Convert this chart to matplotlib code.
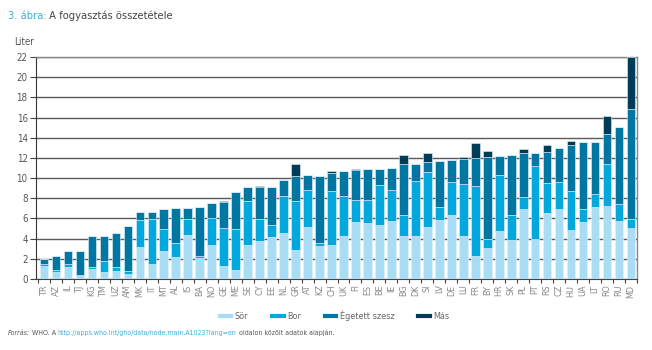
import numpy as np
import matplotlib.pyplot as plt
from matplotlib.lines import Line2D
from matplotlib import font_manager

names = set(f.name for f in font_manager.fontManager.ttflist)
fam = [n for n in ['Liberation Sans Narrow', 'DejaVu Sans Condensed'] if n in names]
plt.rcParams['font.family'] = fam + ['DejaVu Sans']
plt.rcParams['font.stretch'] = 'condensed'

countries = ['TR', 'AZ', 'IL', 'TJ', 'KG', 'TM', 'UZ', 'AM', 'MK', 'IT',
             'MT', 'AL', 'IS', 'BA', 'NO', 'GE', 'ME', 'SE', 'CY', 'EE',
             'NL', 'GR', 'AT', 'KZ', 'CH', 'UK', 'FI', 'ES', 'BE', 'IE',
             'BG', 'DK', 'SI', 'LV', 'DE', 'LU', 'FR', 'BY', 'HR', 'SK',
             'PL', 'PT', 'RS', 'CZ', 'HU', 'UA', 'LT', 'RO', 'RU', 'MD']

beer = [1.3, 0.65, 1.2, 0.3, 1.0, 0.65, 0.8, 0.5, 3.15, 1.5,
        2.75, 2.2, 4.4, 2.05, 3.35, 1.3, 0.9, 3.35, 3.75, 4.2,
        4.6, 2.85, 5.2, 3.25, 3.4, 4.3, 5.65, 5.55, 5.4, 5.7,
        4.3, 4.3, 5.15, 5.8, 6.3, 4.3, 2.3, 3.05, 4.8, 3.9,
        6.9, 3.95, 6.5, 6.95, 4.85, 5.65, 7.15, 7.25, 5.7, 5.1]

wine = [0.2, 0.25, 0.25, 0.05, 0.2, 1.15, 0.35, 0.3, 2.7, 4.4,
        2.25, 1.4, 1.5, 0.25, 2.7, 3.8, 4.1, 4.35, 2.2, 1.15,
        3.6, 4.9, 3.65, 0.3, 5.3, 3.9, 2.15, 2.25, 3.95, 3.1,
        2.05, 5.45, 5.45, 1.35, 3.3, 5.1, 6.9, 0.9, 5.5, 2.45,
        1.2, 7.25, 3.0, 2.65, 3.9, 1.25, 1.25, 4.15, 1.7, 0.85]

spirits = [0.45, 1.35, 1.3, 2.4, 3.05, 2.45, 3.45, 4.45, 0.8, 0.75,
           1.9, 3.4, 1.1, 4.8, 1.45, 2.55, 3.65, 1.4, 3.2, 3.8,
           1.65, 2.5, 1.45, 6.7, 1.85, 2.55, 3.0, 3.15, 1.6, 2.25,
           5.05, 1.6, 0.95, 4.5, 2.2, 2.5, 2.8, 8.15, 1.85, 5.95,
           4.4, 1.3, 3.1, 3.4, 4.55, 6.65, 5.15, 3.0, 7.7, 10.9]

other = [0, 0, 0, 0, 0, 0, 0, 0, 0, 0,
         0, 0, 0, 0, 0, 0.1, 0, 0, 0.05, 0,
         0, 1.1, 0, 0, 0.15, 0, 0.15, 0, 0, 0,
         0.85, 0, 0.9, 0, 0, 0.2, 1.5, 0.6, 0, 0,
         0.35, 0, 0.7, 0, 0.35, 0, 0, 1.75, 0, 5.15]

series = [('Sör', beer, '#a9ddf6'),
          ('Bor', wine, '#00a8dd'),
          ('Égetett szesz', spirits, '#0076a2'),
          ('Más', other, '#003b57')]

fig = plt.figure(figsize=(6.52, 3.5), dpi=100)
ax = fig.add_axes([0.0552, 0.2029, 0.9218, 0.6341])

x = np.arange(len(countries))
bottom = np.zeros(len(countries))
for name, vals, col in series:
    vals = np.array(vals)
    ax.bar(x, vals, width=0.72, bottom=bottom, color=col,
           edgecolor='#e4f3fa', linewidth=0.4, zorder=3)
    bottom += vals

ax.set_ylim(0, 22)
ax.set_xlim(-0.67, 49.42)
ax.set_yticks(range(0, 23, 2))
ax.yaxis.grid(True, color='#5a5a5a', linewidth=1.0, zorder=0)
ax.tick_params(axis='y', direction='out', length=4, width=0.8,
               colors='#444444', labelsize=7, pad=2, labelcolor='#555555')

ax.set_xticks(x)
ax.set_xticklabels(countries, rotation=90, fontsize=6.5, color='#888888')
ax.tick_params(axis='x', length=0, pad=4)
ax.set_xticks(np.arange(-0.5, 49.6, 1), minor=True)
ax.tick_params(axis='x', which='minor', direction='out', length=3,
               width=0.8, color='#444444')

for side in ['top', 'right']:
    ax.spines[side].set_color('#888888')
    ax.spines[side].set_linewidth(1.0)
ax.spines['left'].set_color('#333333')
ax.spines['bottom'].set_color('#444444')

fig.text(0.021, 0.872, 'Liter', fontsize=7, color='#555555')

t = fig.text(0.012, 0.945, '3. ábra:', fontsize=8, color='#3aaed8')
ax.annotate(' A fogyasztás összetétele', xy=(1, 0), xycoords=t,
            fontsize=8, color='#444444', va='bottom', ha='left')

handles = [Line2D([0], [0], color=c, linewidth=3) for _, _, c in series]
fig.legend(handles, [n for n, _, _ in series], loc='center',
           bbox_to_anchor=(0.513, 0.097), ncol=4, frameon=False,
           fontsize=6.5, handlelength=1.3, columnspacing=2.6,
           handletextpad=0.4, labelcolor='#666666')

s1 = fig.text(0.012, 0.043, 'Forrás:', fontsize=5, color='#555555',
              style='italic')
s2 = ax.annotate(' WHO. A ', xy=(1, 0), xycoords=s1, fontsize=5,
                 color='#555555', va='bottom', ha='left')
s3 = ax.annotate('http://apps.who.int/gho/data/node.main.A1023?lang=en',
                 xy=(1, 0), xycoords=s2, fontsize=5, color='#3aaed8',
                 va='bottom', ha='left')
ax.annotate(' oldalon közölt adatok alapján.', xy=(1, 0), xycoords=s3,
            fontsize=5, color='#555555', va='bottom', ha='left')

fig.savefig('out.png', dpi=100)
